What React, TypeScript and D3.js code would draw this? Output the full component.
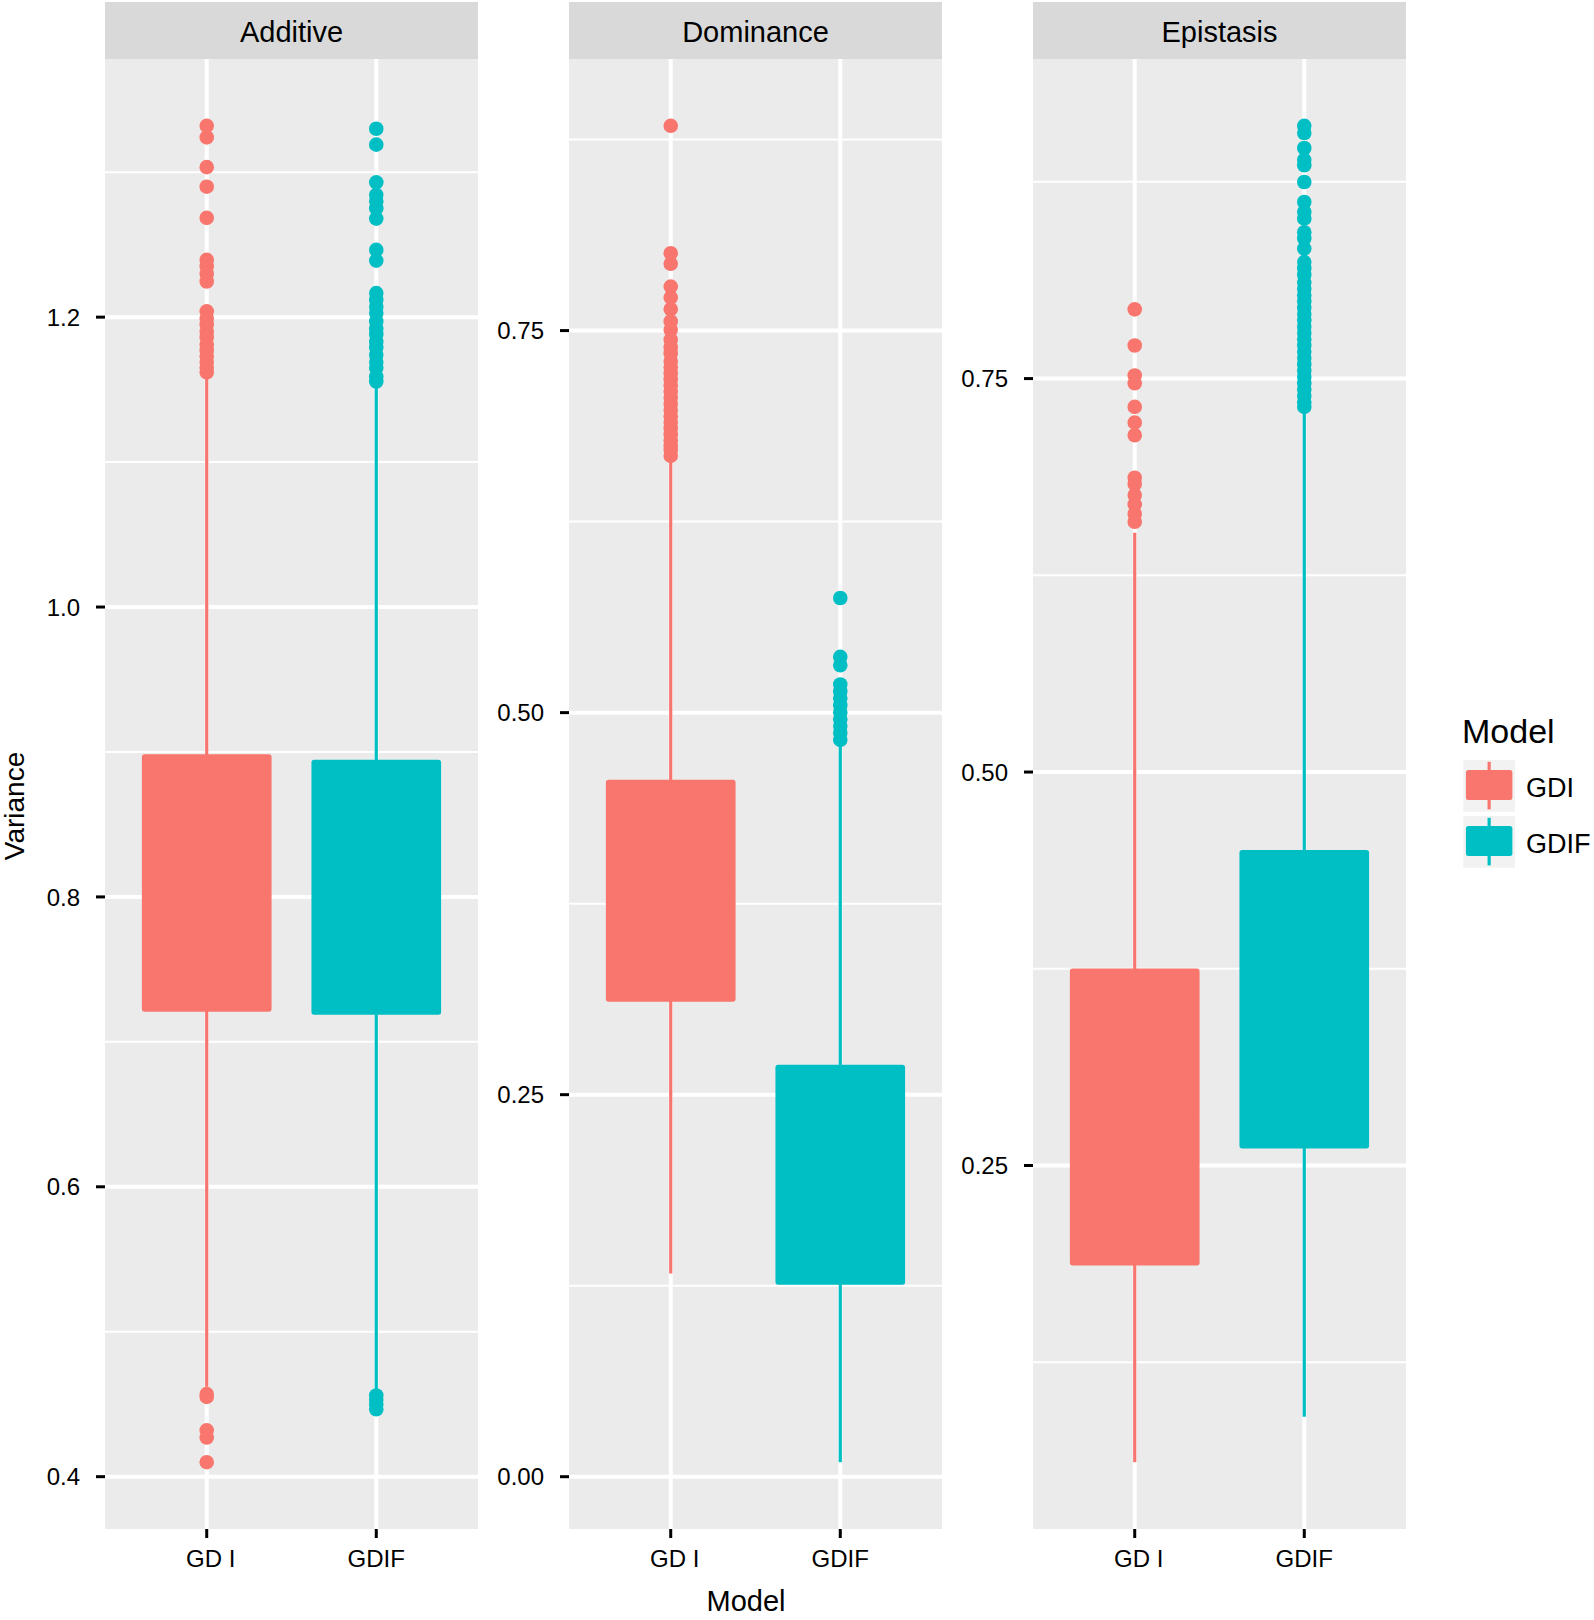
import React from "react";
import * as d3 from "d3";

// ---------- data ----------
const facets = ["Additive", "Dominance", "Epistasis"];
const models = ["GDI", "GDIF"];
const modelTickLabels = ["GD I", "GDIF"];
const modelColors = ["#F8766D", "#00BFC4"];

// [lower whisker, Q1, median, Q3, upper whisker] for GDI, GDIF
const additiveBoxes = [
  [0.462, 0.7217, 0.81, 0.8976, 1.161],
  [0.46, 0.7196, 0.81, 0.8938, 1.154],
];
const dominanceBoxes = [
  [0.133, 0.3117, 0.39, 0.4553, 0.666],
  [0.0095, 0.1264, 0.2, 0.2688, 0.4785],
];
const epistasisBoxes = [
  [0.0615, 0.1873, 0.28, 0.3744, 0.652],
  [0.0903, 0.2616, 0.35, 0.4497, 0.728],
];

const additiveGdiOutliers = [
  1.332, 1.324, 1.3035, 1.29, 1.2685, 1.2395, 1.235, 1.23, 1.2246, 1.204, 1.199,
  1.195, 1.19, 1.186, 1.181, 1.177, 1.173, 1.169, 1.165, 1.162, 0.457, 0.455,
  0.432, 0.427, 0.41,
];
const additiveGdifOutliers = [
  1.33, 1.319, 1.293, 1.2844, 1.28, 1.275, 1.268, 1.2464, 1.239, 1.2166, 1.212,
  1.207, 1.2028, 1.197, 1.192, 1.188, 1.183, 1.179, 1.174, 1.169, 1.165, 1.159,
  1.1556, 0.456, 0.453, 0.45, 0.4465,
];
const dominanceGdiOutliers = [
  0.884, 0.8006, 0.7937, 0.7788, 0.7716, 0.764, 0.756, 0.7505, 0.744, 0.739,
  0.735, 0.73, 0.726, 0.722, 0.718, 0.714, 0.71, 0.706, 0.702, 0.698, 0.694,
  0.69, 0.686, 0.682, 0.678, 0.675, 0.672, 0.668,
];
const dominanceGdifOutliers = [
  0.575, 0.5365, 0.531, 0.5184, 0.5139, 0.5094, 0.5048, 0.5003, 0.4957, 0.4912,
  0.4867, 0.4822,
];
const epistasisGdiOutliers = [
  0.794, 0.771, 0.752, 0.747, 0.732, 0.722, 0.714, 0.687, 0.683, 0.676, 0.67,
  0.664, 0.659,
];
const epistasisGdifOutliers = [
  0.9106, 0.906, 0.8965, 0.889, 0.8855, 0.8749, 0.8622, 0.8559, 0.8516, 0.843,
  0.839, 0.8326, 0.824, 0.82, 0.816, 0.811, 0.807, 0.803, 0.799, 0.795, 0.791,
  0.787, 0.783, 0.779, 0.775, 0.771, 0.767, 0.763, 0.759, 0.755, 0.751, 0.747,
  0.743, 0.739, 0.735, 0.732,
];

const additiveTicks = [0.4, 0.6, 0.8, 1.0, 1.2];
const additiveTickLabels = ["0.4", "0.6", "0.8", "1.0", "1.2"];
const dominanceTicks = [0, 0.25, 0.5, 0.75];
const dominanceTickLabels = ["0.00", "0.25", "0.50", "0.75"];
const epistasisTicks = [0.25, 0.5, 0.75];
const epistasisTickLabels = ["0.25", "0.50", "0.75"];

// ---------- layout ----------
const W = 1594;
const H = 1620;
const panelLefts = [105, 569, 1033];
const panelW = 373;
const stripTop = 2;
const panelTop = 59;
const panelBottom = 1529;
const FONT = "'Liberation Sans', Arial, Helvetica, sans-serif";
const panelBg = "#EBEBEB";
const stripBg = "#D9D9D9";
const xLabelNudge = [4, 0];

const facetBoxes = [additiveBoxes, dominanceBoxes, epistasisBoxes];
const facetOutliers = [
  [additiveGdiOutliers, additiveGdifOutliers],
  [dominanceGdiOutliers, dominanceGdifOutliers],
  [epistasisGdiOutliers, epistasisGdifOutliers],
];
const facetTicks = [additiveTicks, dominanceTicks, epistasisTicks];
const facetTickLabels = [additiveTickLabels, dominanceTickLabels, epistasisTickLabels];

function Panel({ idx }: { idx: number }) {
  const left = panelLefts[idx];
  const boxes = facetBoxes[idx];
  const outs = facetOutliers[idx];
  const ticks = facetTicks[idx];
  const tickLabels = facetTickLabels[idx];

  const all: number[] = [];
  boxes.forEach((b) => all.push(...b));
  outs.forEach((o) => all.push(...o));
  const [mn, mx] = d3.extent(all) as [number, number];
  const pad = (mx - mn) * 0.05;
  const y = d3.scaleLinear().domain([mn - pad, mx + pad]).range([panelBottom, panelTop]);
  const x = d3.scalePoint<string>().domain(models).range([left, left + panelW]).padding(0.6);
  const step = x.step();
  const boxW = step * 0.75;

  const [d0, d1] = y.domain();
  const majorStep = ticks[1] - ticks[0];
  const minor: number[] = [];
  for (let k = -1; k < ticks.length; k++) {
    const v = ticks[0] + (k + 0.5) * majorStep;
    if (v > d0 && v < d1) minor.push(v);
  }

  return (
    <g>
      {/* strip */}
      <rect x={left} y={stripTop} width={panelW} height={panelTop - stripTop} fill={stripBg} />
      <text
        x={left + panelW / 2}
        y={41.5}
        textAnchor="middle"
        fontSize={29}
        fontFamily={FONT}
        fill="#000"
      >
        {facets[idx]}
      </text>
      {/* panel */}
      <rect x={left} y={panelTop} width={panelW} height={panelBottom - panelTop} fill={panelBg} />
      {minor.map((v, i) => (
        <line key={"mi" + i} x1={left} x2={left + panelW} y1={y(v)} y2={y(v)} stroke="#fff" strokeWidth={2} />
      ))}
      {ticks.map((v, i) => (
        <line key={"ma" + i} x1={left} x2={left + panelW} y1={y(v)} y2={y(v)} stroke="#fff" strokeWidth={4} />
      ))}
      {models.map((m) => (
        <line key={"vx" + m} x1={x(m)} x2={x(m)} y1={panelTop} y2={panelBottom} stroke="#fff" strokeWidth={4} />
      ))}
      {/* boxplots */}
      {models.map((m, j) => {
        const [lw, q1, med, q3, uw] = boxes[j];
        const cx = x(m) as number;
        const c = modelColors[j];
        return (
          <g key={"bx" + m}>
            <line x1={cx} x2={cx} y1={y(uw)} y2={y(q3)} stroke={c} strokeWidth={3.2} />
            <line x1={cx} x2={cx} y1={y(q1)} y2={y(lw)} stroke={c} strokeWidth={3.2} />
            <rect
              x={cx - boxW / 2}
              y={y(q3)}
              width={boxW}
              height={y(q1) - y(q3)}
              fill={c}
              stroke={c}
              strokeWidth={2.5}
              strokeLinejoin="round"
              rx={1.5}
            />
            <line x1={cx - boxW / 2} x2={cx + boxW / 2} y1={y(med)} y2={y(med)} stroke={c} strokeWidth={3} />
            {outs[j].map((v, k) => (
              <circle key={k} cx={cx} cy={y(v)} r={7.3} fill={c} />
            ))}
          </g>
        );
      })}
      {/* y axis */}
      {ticks.map((v, i) => (
        <g key={"yt" + i}>
          <line x1={left - 9} x2={left} y1={y(v)} y2={y(v)} stroke="#000" strokeWidth={3} />
          <text
            x={left - 25}
            y={y(v)}
            dy="0.36em"
            textAnchor="end"
            fontSize={24}
            fontFamily={FONT}
            fill="#000"
          >
            {tickLabels[i]}
          </text>
        </g>
      ))}
      {/* x axis */}
      {models.map((m, j) => (
        <g key={"xt" + m}>
          <line x1={x(m)} x2={x(m)} y1={panelBottom} y2={panelBottom + 9} stroke="#000" strokeWidth={3} />
          <text
            x={(x(m) as number) + xLabelNudge[j]}
            y={1567}
            textAnchor="middle"
            fontSize={24}
            fontFamily={FONT}
            fill="#000"
          >
            {modelTickLabels[j]}
          </text>
        </g>
      ))}
    </g>
  );
}

function Legend() {
  const kx = 1463.3;
  const ks = 51.7;
  const kys = [760, 816];
  return (
    <g>
      <text x={1462} y={743} fontSize={34} fontFamily={FONT} fill="#000">
        Model
      </text>
      {models.map((m, j) => {
        const ky = kys[j];
        const c = modelColors[j];
        return (
          <g key={m}>
            <rect x={kx} y={ky} width={ks} height={ks} fill="#F2F2F2" />
            <line
              x1={kx + ks / 2}
              x2={kx + ks / 2}
              y1={ky + ks * 0.035}
              y2={ky + ks * 0.955}
              stroke={c}
              strokeWidth={3.2}
            />
            <rect
              x={kx + ks * 0.07}
              y={ky + ks * 0.215}
              width={ks * 0.86}
              height={ks * 0.54}
              fill={c}
              stroke={c}
              strokeWidth={2}
              rx={1.5}
            />
            <text x={1526} y={ky + 37.3} fontSize={27} fontFamily={FONT} fill="#000">
              {m}
            </text>
          </g>
        );
      })}
    </g>
  );
}

export default function App() {
  return (
    <svg
      width={W}
      height={H}
      viewBox={`0 0 ${W} ${H}`}
      style={{ position: "absolute", left: 0, top: 0, display: "block", background: "#fff" }}
    >
      <rect x={0} y={0} width={W} height={H} fill="#fff" />
      {facets.map((f, i) => (
        <Panel key={f} idx={i} />
      ))}
      <text
        transform="translate(24.3,806) rotate(-90)"
        textAnchor="middle"
        fontSize={28}
        fontFamily={FONT}
        fill="#000"
      >
        Variance
      </text>
      <text x={746} y={1611} textAnchor="middle" fontSize={29} fontFamily={FONT} fill="#000">
        Model
      </text>
      <Legend />
    </svg>
  );
}
